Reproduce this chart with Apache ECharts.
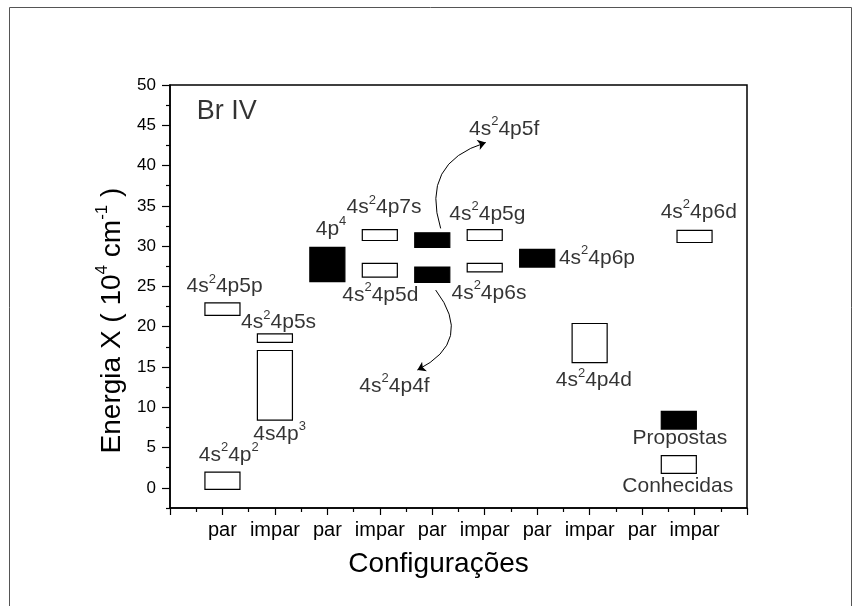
<!DOCTYPE html>
<html><head><meta charset="utf-8">
<script src="https://cdn.jsdelivr.net/npm/echarts@6/dist/echarts.min.js"></script>
<style>html,body{margin:0;padding:0;background:#fff}#c{width:860px;height:606px}</style>
</head><body><div id="c"></div>
<script>
// Category labels along x (positions 1..10)
const categories = ['par','impar','par','impar','par','impar','par','impar','par','impar'];
const yTickValues = [0,5,10,15,20,25,30,35,40,45,50];
const yMinorTickValues = [-2.5,2.5,7.5,12.5,17.5,22.5,27.5,32.5,37.5,42.5,47.5];

// Known levels (open boxes): category position, low and high energy (10^4 cm^-1)
const knownX    = [1,    1,     2,     2,     4,     4,     6,     6,     8,     10];
const knownLow  = [-0.2, 21.4,  18.05, 8.4,   30.7,  26.15, 30.7,  26.8,  15.55, 30.45];
const knownHigh = [1.95, 22.95, 19.1,  17.05, 32.05, 27.85, 32.05, 27.85, 20.4,  31.95];

// Proposed levels (filled boxes)
const proposedX    = [3,     5,     5,     7];
const proposedLow  = [25.6,  29.85, 25.5,  27.4];
const proposedHigh = [29.85, 31.65, 27.4,  29.6];

// Key boxes
const keyX = [9.7, 9.7];
const keyLow = [7.3, 1.8];
const keyHigh = [9.5, 4.0];
const keyFilled = [1, 0];

// Text annotations: data position and text
const labelX = [1.08, 1.04, 2.07, 2.09, 1.12, 3.07, 4.08, 4.01, 6.37, 6.05, 6.08, 8.14, 10.08, 8.08, 4.28, 9.72, 9.68];
const labelY = [46.7, 25.0, 20.5, 6.7, 4.05, 32.1, 34.8, 23.9, 44.55, 34.0, 24.2, 28.5, 34.2, 13.3, 12.6, 6.2, 0.2];
const labelText = [
  '{t|Br IV}',
  '{n|4s}{s|2}{n|4p5p}',
  '{n|4s}{s|2}{n|4p5s}',
  '{n|4s4p}{s|3}',
  '{n|4s}{s|2}{n|4p}{s|2}',
  '{n|4p}{s|4}',
  '{n|4s}{s|2}{n|4p7s}',
  '{n|4s}{s|2}{n|4p5d}',
  '{n|4s}{s|2}{n|4p5f}',
  '{n|4s}{s|2}{n|4p5g}',
  '{n|4s}{s|2}{n|4p6s}',
  '{n|4s}{s|2}{n|4p6p}',
  '{n|4s}{s|2}{n|4p6d}',
  '{n|4s}{s|2}{n|4p4d}',
  '{n|4s}{s|2}{n|4p4f}',
  '{n|Propostas}',
  '{n|Conhecidas}'
];

// Curved arrows: start and end in data units
const arrowFrom = [[5.16, 32.2], [5.065, 24.55]];
const arrowTo   = [[6.02, 42.86], [4.716, 14.62]];
const arrowCurve = [0.5, 0.6];

const F = 'Arial, "Liberation Sans", sans-serif';
const boxes = [];
knownX.forEach((x, i) => boxes.push([x, knownLow[i], knownHigh[i], 0]));
proposedX.forEach((x, i) => boxes.push([x, proposedLow[i], proposedHigh[i], 1]));
keyX.forEach((x, i) => boxes.push([x, keyLow[i], keyHigh[i], keyFilled[i]]));
const halfW = 0.334;

const chart = echarts.init(document.getElementById('c'));
chart.setOption({
  animation: false,
  backgroundColor: '#fff',
  graphic: [{
    type: 'rect', silent: true,
    shape: {x: 9.5, y: 7.5, width: 842, height: 620},
    style: {fill: 'none', stroke: '#555', lineWidth: 1}
  }],
  grid: {left: 170, right: 113, top: 85, bottom: 98, show: true, borderColor: '#000', borderWidth: 1.5, backgroundColor: 'transparent'},
  xAxis: {
    type: 'value', min: 0, max: 11, interval: 1,
    name: 'Configurações', nameLocation: 'middle', nameGap: 42,
    nameTextStyle: {fontFamily: F, fontSize: 28, color: '#000', padding: [0, 40, 0, 0]},
    axisLine: {show: true, onZero: false, lineStyle: {color: '#000', width: 1.5}},
    axisTick: {show: true, inside: false, length: 7, lineStyle: {color: '#000', width: 1.2}},
    minorTick: {show: true, splitNumber: 2, length: 4, lineStyle: {color: '#000', width: 1.2}},
    splitLine: {show: false},
    axisLabel: {
      fontFamily: F, fontSize: 20, color: '#000', margin: 12,
      formatter: v => (v >= 1 && v <= categories.length && Number.isInteger(v)) ? categories[v - 1] : ''
    }
  },
  yAxis: [{
    type: 'value', min: -2.5, max: 50,
    name: '{n|Energia X ( 10}{s|4}{n| cm}{s|-1}{n| )}', nameLocation: 'middle', nameGap: 40,
    nameRotate: 90,
    nameTextStyle: {
      padding: [0, 48, 0, 0],
      rich: {
        n: {fontFamily: F, fontSize: 28, color: '#000', lineHeight: 36},
        s: {fontFamily: F, fontSize: 17, color: '#000', lineHeight: 17, verticalAlign: 'top'}
      }
    },
    axisLine: {show: true, onZero: false, lineStyle: {color: '#000', width: 1.5}},
    axisTick: {show: true, length: 8, customValues: yTickValues, lineStyle: {color: '#000', width: 1.2}},
    axisLabel: {fontFamily: F, fontSize: 17, color: '#000', margin: 14, customValues: yTickValues},
    splitLine: {show: false}
  }, {
    type: 'value', min: -2.5, max: 50, position: 'left',
    axisLine: {show: false},
    axisTick: {show: true, length: 4, customValues: yMinorTickValues, lineStyle: {color: '#000', width: 1.2}},
    axisLabel: {show: false},
    splitLine: {show: false}
  }],
  series: [{
    type: 'custom', coordinateSystem: 'cartesian2d', silent: true,
    encode: {x: 0, y: [1, 2]},
    data: boxes,
    renderItem: (params, api) => {
      const x = api.value(0), lo = api.value(1), hi = api.value(2), f = api.value(3);
      const a = api.coord([x - halfW, hi]), b = api.coord([x + halfW, lo]);
      return {type: 'rect', shape: {x: a[0], y: a[1], width: b[0] - a[0], height: b[1] - a[1]},
        style: {fill: f ? '#000' : '#fff', stroke: '#000', lineWidth: 1.2}};
    }
  }, {
    type: 'lines', coordinateSystem: 'cartesian2d', silent: true,
    symbol: ['none', 'arrow'], symbolSize: 8,
    data: arrowFrom.map((p, i) => ({coords: [p, arrowTo[i]], lineStyle: {curveness: arrowCurve[i]}})),
    lineStyle: {color: '#000', width: 1, opacity: 1}
  }, {
    type: 'scatter', silent: true, symbolSize: 1,
    itemStyle: {color: 'rgba(0,0,0,0)'},
    data: labelX.map((x, i) => [x, labelY[i], labelText[i]]),
    label: {
      show: true, position: 'inside', formatter: p => p.data[2],
      rich: {
        t: {fontFamily: F, fontSize: 27, color: '#000'},
        n: {fontFamily: F, fontSize: 21, color: '#000', lineHeight: 28},
        s: {fontFamily: F, fontSize: 13, color: '#000', lineHeight: 13, verticalAlign: 'top'}
      }
    }
  }]
});
</script></body></html>
